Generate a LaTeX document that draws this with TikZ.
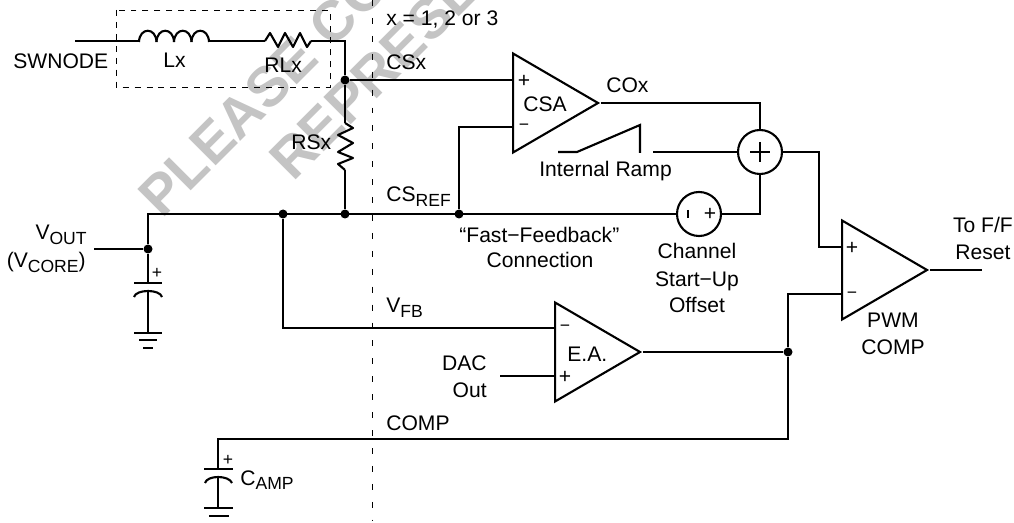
\documentclass[tikz,border=0pt]{standalone}
\usepackage{fontspec}
\setmainfont{Liberation Sans}
\usetikzlibrary{shapes.geometric}
\newcommand{\lowsub}[1]{\raisebox{-0.22em}{\fontsize{10}{10}\selectfont #1}}
\tikzset{
  wire/.style={line width=1.2pt},
  thinwire/.style={line width=0.65pt},
  jdot/.style={circle,fill=black,inner sep=0pt,minimum size=0.18cm},
  opamp/.style={draw,line width=1.2pt,isosceles triangle,isosceles triangle stretches,shape border rotate=0,
    minimum width=1.98cm,minimum height=1.7cm,inner sep=0pt,anchor=lower side},
  lbl/.style={inner sep=0pt,anchor=base west,font=\fontsize{12}{14}\selectfont},
  lblr/.style={lbl,anchor=base east},
  lblc/.style={lbl,anchor=base},
  sign/.style={inner sep=0pt,font=\fontsize{12}{12}\selectfont},
  smallsign/.style={inner sep=0pt,font=\fontsize{10}{10}\selectfont},
  wmark/.style={inner sep=0pt,anchor=base west,rotate=45,text=black!23,font=\fontsize{32}{32}\selectfont\bfseries},
  framedash/.style={line width=0.55pt,dash pattern=on 3.4pt off 3.4pt},
  cutdash/.style={line width=0.55pt,dash pattern=on 3.4pt off 6.8pt}
}
\begin{document}
\begin{tikzpicture}[x=0.02cm,y=-0.02cm]
\useasboundingbox (0,0) rectangle (1014,523);
\clip (0,0) rectangle (1014,523);
\node[wmark] (wmplease) at (162,220) {PLEASE CO};
\node[wmark] (wmrepr) at (293,183) {REPRESE};

\draw[framedash] (116,10) rectangle (330,87);
\coordinate (cuttop) at (372,0);
\coordinate (cutbot) at (372,520);
\draw[cutdash] (cuttop) -- (cutbot);

\coordinate (swin) at (75,41);
\coordinate (lxa) at (139,41);
\coordinate (lxb) at (209,41);
\coordinate (rla) at (265,41);
\coordinate (rlb) at (311,41);
\coordinate (corner) at (345,41);
\coordinate (rsa) at (345,123);
\coordinate (rsb) at (345,170);
\node[jdot] (jcs) at (345,80) {};
\node[jdot] (jrs) at (345,214) {};
\node[jdot] (jfb) at (283,214) {};
\node[jdot] (jref) at (459,214) {};
\node[jdot] (jout) at (148,249) {};
\node[jdot] (jcomp) at (788,352) {};
\coordinate (topleft) at (148,214);
\coordinate (voutin) at (94,249);

\node[opamp] (csa) at (512,103) {};
\node[opamp] (ea) at (554,352) {};
\node[opamp] (pwm) at (841,270) {};
\coordinate (csap) at (512,80);
\coordinate (csan) at (512,127);
\coordinate (ean) at (554,328);
\coordinate (eap) at (554,376);
\coordinate (pwmp) at (841,247);
\coordinate (pwmn) at (841,294);
\coordinate (dacin) at (500,376);
\coordinate (pwmout) at (982,270);
\coordinate (feed) at (819,152);

\node[circle,draw,wire,minimum size=0.88cm,inner sep=0pt] (summer) at (760,152) {};
\node[circle,draw,wire,minimum size=0.88cm,inner sep=0pt] (offset) at (699,214) {};
\draw[wire] (750,152) -- (770,152) (760,142) -- (760,162);
\node[sign] (offp) at (710,214) {+};
\draw[thinwire] (688,210) -- (688,218);

\draw[wire] (swin) -- (lxa);
\foreach \hx in {139,156.5,174,191.5}
  \draw[wire] (\hx,42) .. controls (\hx+0.5,27) and (\hx+17,27) .. (\hx+17.5,42);
\draw[wire] (lxb) -- (rla);
\draw[wire,line join=round] (rla) -- (270,33) -- (278,47) -- (285,33) -- (293,47) -- (300,33) -- (307,47) -- (rlb);
\draw[wire] (rlb) -- (corner) -- (jcs) -- (rsa);
\draw[wire,line join=round] (rsa) -- (353,128) -- (338,135) -- (353,143) -- (338,152) -- (353,158) -- (338,164) -- (rsb);
\draw[wire] (rsb) -- (jrs);
\draw[wire] (jcs) -- (csap);
\draw[wire] (jout) -- (topleft) -- (offset);
\draw[wire] (voutin) -- (jout);
\draw[wire] (jref) |- (csan);
\draw[wire] (csa.apex) -| (summer);
\draw[wire] (summer) |- (offset);
\draw[wire] (summer) -| (feed) |- (pwmp);
\draw[wire] (pwm.apex) -- (pwmout);
\draw[wire] (jfb) |- (ean);
\draw[wire] (dacin) -- (eap);
\draw[wire] (ea.apex) -- (jcomp);
\draw[wire] (pwmn) -| (jcomp);

\coordinate (rampa) at (558,152);
\coordinate (rampb) at (577,152);
\coordinate (rampc) at (640,125);
\coordinate (rampd) at (640,153);
\coordinate (rampe) at (653,152);
\draw[wire] (rampa) -- (rampb) -- (rampc) -- (rampd);
\draw[wire] (rampe) -- (summer);

\coordinate (compend) at (218,439);
\draw[wire] (jcomp) |- (compend) -- (218,469);
\draw[wire] (204,469) -- (233,469);
\draw[wire] (205,483) .. controls (207,475) and (229,475) .. (232,483);
\draw[wire] (218,477) -- (218,508);
\draw[wire] (204,508) -- (233,508);
\draw[wire] (209,516) -- (229,516);
\node[smallsign] (camppl) at (228,460) {+};

\draw[wire] (jout) -- (148,283);
\draw[wire] (134,283) -- (162,283);
\draw[wire] (134,297) .. controls (136,289) and (160,289) .. (162,297);
\draw[wire] (148,290) -- (148,333);
\draw[wire] (134,333) -- (162,333);
\draw[wire] (139,340) -- (157,340);
\draw[wire] (143,348) -- (153,348);
\node[smallsign] (voutpl) at (157,273) {+};

\node[sign] (csaplus) at (524,81) {+};
\node[smallsign] (csaminus) at (524,127) {−};
\node[smallsign] (eaminus) at (565,328) {−};
\node[sign] (eaplus) at (565,377) {+};
\node[sign] (pwmplus) at (852,248) {+};
\node[smallsign] (pwmminus) at (852,295) {−};

\node[lbl] (tswnode) at (13,69) {SWNODE};
\node[lbl] (tlx) at (163,68) {Lx};
\node[lbl] (trlx) at (264,73) {RLx};
\node[lbl] (trsx) at (291,150) {RSx};
\node[lbl] (tx) at (386,26) {x = 1, 2 or 3};
\node[lbl] (tcsx) at (386,70) {CSx};
\node[lbl] (tcsref) at (386,202) {CS\lowsub{REF}};
\node[lbl] (tcsa) at (523,112) {CSA};
\node[lbl] (tcox) at (606,93) {COx};
\node[lbl] (tramp) at (539,177) {Internal Ramp};
\node[lbl] (tfast) at (459,243) {“Fast−Feedback”};
\node[lblc] (tconn) at (540,268) {Connection};
\node[lblc] (tchan) at (697,259) {Channel};
\node[lblc] (tstart) at (697,287) {Start−Up};
\node[lblc] (toffs) at (697,313) {Offset};
\node[lblc] (ttoff) at (983,233) {To F/F};
\node[lblc] (treset) at (983,260) {Reset};
\node[lblc] (tpwm) at (893,328) {PWM};
\node[lblc] (tcomp) at (893,355) {COMP};
\node[lblr] (tvout) at (87,240) {V\lowsub{OUT}};
\node[lblr] (tvcore) at (86,268) {(V\lowsub{CORE})};
\node[lbl] (tvfb) at (386,313) {V\lowsub{FB}};
\node[lbl] (tea) at (567,361) {E.A.};
\node[lblr] (tdac) at (487,371) {DAC};
\node[lblr] (tdout) at (487,398) {Out};
\node[lbl] (tcompw) at (386,430) {COMP};
\node[lbl] (tcamp) at (240,485) {C\lowsub{AMP}};
\end{tikzpicture}
\end{document}
